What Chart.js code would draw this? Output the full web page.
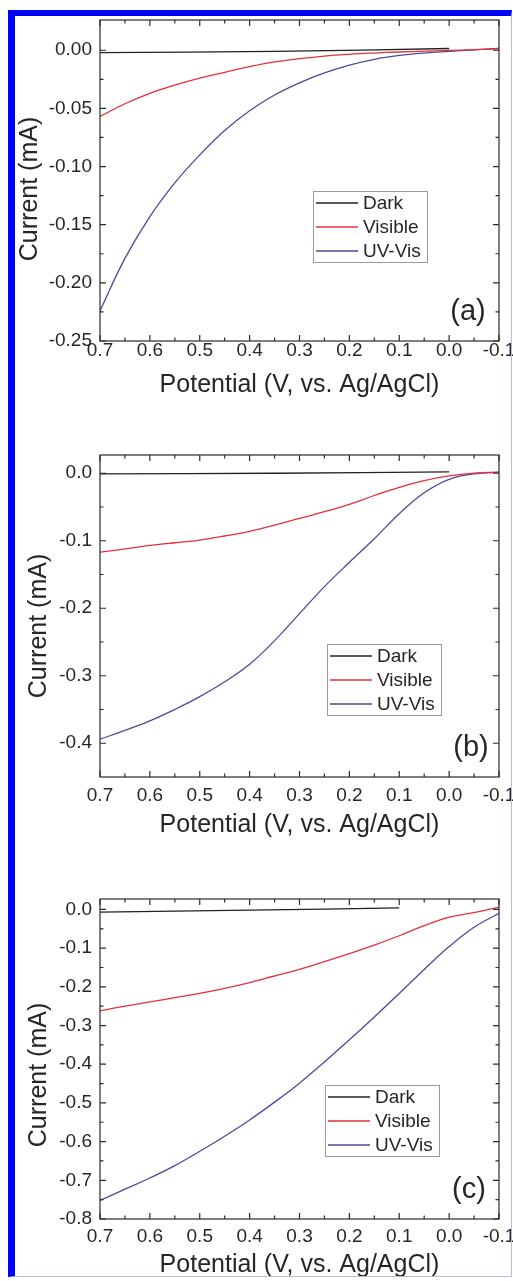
<!DOCTYPE html>
<html lang="en">
<head>
<meta charset="UTF-8">
<title>Current vs potential</title>
<script src="https://cdn.jsdelivr.net/npm/chart.js"></script>
<style>
  html, body { margin: 0; padding: 0; background: #fff; overflow: hidden; }
  body { width: 513px; height: 1281px; position: relative; }
  .panel { position: absolute; left: 0; width: 513px; }
  .frame {
    position: absolute; left: 8px; top: 10px; width: 504px; height: 1267px;
    box-sizing: border-box; pointer-events: none; z-index: 5;
    border-top: 6px solid #0000ff; border-left: 7px solid #0000ff;
    border-right: 1px solid #b4bce6; border-bottom: 1px solid #b4bce6;
  }
</style>
</head>
<body>
<div class="panel" style="top:0;height:430px"><canvas id="chartA"></canvas></div>
<div class="panel" style="top:430px;height:420px"><canvas id="chartB"></canvas></div>
<div class="panel" style="top:850px;height:431px"><canvas id="chartC"></canvas></div>
<div class="frame"></div>

<script>
// potential grid (V vs Ag/AgCl), shared by the illuminated curves
const potential = [0.7, 0.65, 0.6, 0.55, 0.5, 0.45, 0.4, 0.35, 0.3, 0.25, 0.2, 0.15, 0.1, 0.05, 0.0, -0.05, -0.1];
const darkPotentialAB = [0.7, 0.35, 0.0];
const darkPotentialC = [0.7, 0.4, 0.1];

// panel (a)
const darkA = [-0.002, -0.001, 0.0015];
const visibleA = [-0.057, -0.046, -0.037, -0.030, -0.024, -0.019, -0.014, -0.010, -0.0072, -0.005, -0.0035, -0.0024, -0.0015, -0.0008, -0.0002, 0.0006, 0.0015];
const uvVisA = [-0.224, -0.179, -0.143, -0.114, -0.090, -0.069, -0.052, -0.0385, -0.028, -0.0195, -0.0128, -0.0078, -0.0045, -0.0024, -0.001, 0.0003, 0.0015];

// panel (b)
const darkB = [-0.001, 0.0, 0.002];
const visibleB = [-0.117, -0.112, -0.107, -0.103, -0.099, -0.093, -0.086, -0.077, -0.067, -0.057, -0.046, -0.033, -0.021, -0.011, -0.004, 0.0, 0.0015];
const uvVisB = [-0.394, -0.381, -0.367, -0.350, -0.331, -0.309, -0.283, -0.248, -0.208, -0.168, -0.132, -0.097, -0.060, -0.029, -0.009, -0.001, 0.0015];

// panel (c)
const darkC = [-0.007, -0.002, 0.004];
const visibleC = [-0.262, -0.250, -0.239, -0.228, -0.217, -0.204, -0.189, -0.172, -0.155, -0.135, -0.114, -0.092, -0.068, -0.042, -0.020, -0.008, 0.006];
const uvVisC = [-0.752, -0.723, -0.694, -0.662, -0.625, -0.586, -0.544, -0.498, -0.449, -0.394, -0.337, -0.278, -0.217, -0.155, -0.096, -0.046, -0.010];

// tick labels
const xTicks = [0.7, 0.6, 0.5, 0.4, 0.3, 0.2, 0.1, 0.0, -0.1];
const yTicksA = [0, -0.05, -0.1, -0.15, -0.2, -0.25];
const yTicksB = [0, -0.1, -0.2, -0.3, -0.4];
const yTicksC = [0, -0.1, -0.2, -0.3, -0.4, -0.5, -0.6, -0.7, -0.8];

const seriesLabels = ['Dark', 'Visible', 'UV-Vis'];
const seriesColors = ['#222222', '#e3303c', '#4a4a9c'];

const FONT = "'Liberation Sans', Arial, sans-serif";
const INK = '#262626';

const dec = (v, d) => (Math.abs(v) < 1e-9 ? 0 : v).toFixed(d);

function midpoints(vals) {
    const out = [];
    for (let i = 0; i < vals.length - 1; i++) out.push((vals[i] + vals[i + 1]) / 2);
    return out;
}

// frame, inward ticks on all sides, legend box, panel tag and y title
const decor = {
    id: 'decor',
    afterDatasetsDraw(chart, args, o) {
        const ctx = chart.ctx;
        const a = chart.chartArea;
        const xs = chart.scales.x, ys = chart.scales.y;
        ctx.save();
        ctx.strokeStyle = '#2b2b2b';
        ctx.lineWidth = 1.2;
        ctx.strokeRect(a.left, a.top, a.right - a.left, a.bottom - a.top);

        const xMaj = xTicks, xMin = midpoints(xTicks);
        const yMaj = o.yTicks, yMin = midpoints(o.yTicks);
        ctx.beginPath();
        [[xMaj, 6], [xMin, 3.5]].forEach(([vals, len]) => {
            vals.forEach(v => {
                const px = xs.getPixelForValue(v);
                if (px < a.left - 0.5 || px > a.right + 0.5) return;
                ctx.moveTo(px, a.bottom); ctx.lineTo(px, a.bottom - len);
                ctx.moveTo(px, a.top); ctx.lineTo(px, a.top + len);
            });
        });
        [[yMaj, 6], [yMin, 3.5]].forEach(([vals, len]) => {
            vals.forEach(v => {
                const py = ys.getPixelForValue(v);
                if (py < a.top - 0.5 || py > a.bottom + 0.5) return;
                ctx.moveTo(a.left, py); ctx.lineTo(a.left + len, py);
                ctx.moveTo(a.right, py); ctx.lineTo(a.right - len, py);
            });
        });
        ctx.stroke();

        // legend
        const L = o.legend;
        ctx.fillStyle = '#fff';
        ctx.fillRect(L.x, L.y, 114, 71);
        ctx.strokeStyle = '#9a9a9a';
        ctx.lineWidth = 1;
        ctx.strokeRect(L.x + 0.5, L.y + 0.5, 114, 71);
        ctx.font = '19px ' + FONT;
        ctx.textAlign = 'left';
        ctx.textBaseline = 'middle';
        chart.data.datasets.forEach((ds, i) => {
            const yy = L.y + 12 + i * 24;
            ctx.strokeStyle = ds.borderColor;
            ctx.lineWidth = 1.3;
            ctx.beginPath();
            ctx.moveTo(L.x + 3, yy); ctx.lineTo(L.x + 45, yy);
            ctx.stroke();
            ctx.fillStyle = INK;
            ctx.fillText(ds.label, L.x + 50, yy + 1);
        });

        // panel tag
        ctx.font = '29px ' + FONT;
        ctx.textAlign = 'center';
        ctx.fillStyle = INK;
        ctx.fillText(o.tag.text, o.tag.x, o.tag.y);

        // y title
        ctx.translate(o.yTitle.x, o.yTitle.y);
        ctx.rotate(-Math.PI / 2);
        ctx.font = '25px ' + FONT;
        ctx.fillText('Current (mA)', 0, 0);
        ctx.restore();
    }
};

function makeChart(id, p) {
    const xs = [darkPotentialAB, potential, potential];
    if (p.darkX) xs[0] = p.darkX;
    return new Chart(document.getElementById(id), {
        type: 'line',
        data: {
            datasets: p.series.map((ys, k) => ({
                label: seriesLabels[k],
                data: xs[k].map((x, i) => ({ x: x, y: ys[i] })),
                borderColor: seriesColors[k],
                borderWidth: 1.3,
                pointRadius: 0,
                tension: 0.4,
                fill: false
            }))
        },
        options: {
            responsive: true,
            maintainAspectRatio: false,
            animation: false,
            devicePixelRatio: 1,
            layout: { padding: { top: p.padTop, bottom: p.padBottom, left: 0, right: 14 } },
            plugins: {
                legend: { display: false },
                tooltip: { enabled: false },
                decor: { yTicks: p.yTicks, legend: p.legend, tag: p.tag, yTitle: p.yTitle }
            },
            scales: {
                x: {
                    type: 'linear',
                    reverse: true,
                    min: -0.1,
                    max: 0.7,
                    grid: { display: false, drawTicks: false },
                    border: { display: false },
                    afterBuildTicks: s => { s.ticks = xTicks.map(v => ({ value: v })); },
                    ticks: {
                        font: { family: FONT, size: 19, lineHeight: 1 },
                        color: INK,
                        padding: p.xTickPad,
                        maxRotation: 0,
                        autoSkip: false,
                        callback: v => dec(v, 1)
                    },
                    title: {
                        display: true,
                        text: 'Potential (V, vs. Ag/AgCl)',
                        font: { family: FONT, size: 25, lineHeight: 1.2 },
                        color: INK,
                        padding: 0
                    },
                    afterFit: s => { s.height = p.xAxisH; s.paddingLeft = 0; s.paddingRight = 0; }
                },
                y: {
                    type: 'linear',
                    min: p.yMin,
                    max: p.yMax,
                    grid: { display: false, drawTicks: false },
                    border: { display: false },
                    afterBuildTicks: s => { s.ticks = p.yTicks.map(v => ({ value: v })); },
                    ticks: {
                        font: { family: FONT, size: 19, lineHeight: 1 },
                        color: INK,
                        padding: 8,
                        callback: v => dec(v, p.decimals)
                    },
                    afterFit: s => { s.width = 100; s.paddingTop = 0; s.paddingBottom = 0; }
                }
            }
        },
        plugins: [decor]
    });
}

makeChart('chartA', {
    series: [darkA, visibleA, uvVisA],
    yTicks: yTicksA, yMin: -0.25, yMax: 0.026, decimals: 2,
    padTop: 20, padBottom: 30, xAxisH: 59, xTickPad: 0,
    legend: { x: 313, y: 191 },
    tag: { text: '(a)', x: 468, y: 312 },
    yTitle: { x: 30, y: 189 }
});

makeChart('chartB', {
    series: [darkB, visibleB, uvVisB],
    yTicks: yTicksB, yMin: -0.45, yMax: 0.027, decimals: 1,
    padTop: 25, padBottom: 10, xAxisH: 63, xTickPad: 9,
    legend: { x: 327, y: 214 },
    tag: { text: '(b)', x: 471, y: 318 },
    yTitle: { x: 39, y: 196 }
});

makeChart('chartC', {
    series: [darkC, visibleC, uvVisC],
    darkX: darkPotentialC,
    yTicks: yTicksC, yMin: -0.8, yMax: 0.027, decimals: 1,
    padTop: 49, padBottom: 1, xAxisH: 61, xTickPad: 8,
    legend: { x: 325, y: 235 },
    tag: { text: '(c)', x: 469, y: 340 },
    yTitle: { x: 39, y: 225 }
});
</script>
</body>
</html>
